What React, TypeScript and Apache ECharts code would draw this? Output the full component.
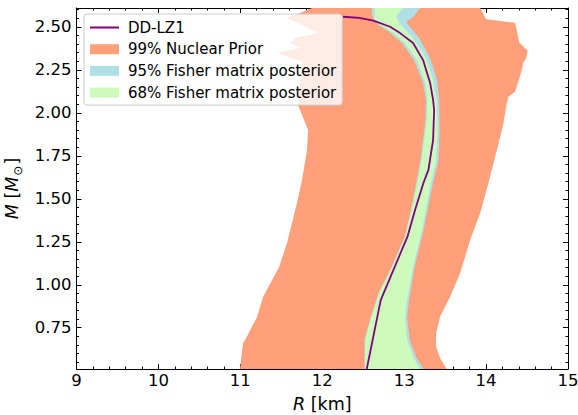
import React, { useEffect, useRef } from "react";
import * as echarts from "echarts";

// 99% nuclear prior region (outline: left edge top->bottom, right edge bottom->top)
const priorR = [11.875, 11.729, 11.57, 11.729, 11.949, 11.668, 11.607, 11.729, 11.448, 11.766, 11.729, 11.705, 11.827, 11.814, 11.753, 11.692, 11.631, 11.57, 11.473, 11.277, 11.204, 11.057, 11.033, 10.996,
  13.52, 13.439, 13.39, 13.39, 13.439, 13.561, 13.683, 13.805, 13.927, 14.028, 14.11, 14.208, 14.244, 14.272, 14.354, 14.394, 14.436, 14.452, 14.489, 14.509, 14.407, 14.354, 14.0, 13.927];
const priorM = [2.61, 2.581, 2.552, 2.517, 2.465, 2.435, 2.406, 2.377, 2.348, 2.296, 2.191, 2.046, 1.9, 1.784, 1.609, 1.476, 1.359, 1.243, 1.103, 0.929, 0.812, 0.679, 0.661, 0.51,
  0.51, 0.572, 0.64, 0.718, 0.815, 0.931, 1.067, 1.261, 1.416, 1.59, 1.745, 1.929, 2.036, 2.094, 2.123, 2.181, 2.249, 2.29, 2.317, 2.362, 2.408, 2.524, 2.544, 2.61];

// 95% Fisher matrix posterior band outline
const fisher95R = [12.516, 12.516, 12.578, 12.687, 12.846, 13.005, 13.096, 13.2, 13.261, 13.267, 13.231, 13.121, 12.974, 12.803, 12.669, 12.62, 12.602, 12.608,
  13.194, 13.109, 13.023, 13.182, 13.316, 13.402, 13.426, 13.432, 13.42, 13.341, 13.237, 13.127, 13.06, 13.035, 13.066, 13.145, 13.237];
const fisher95M = [0.51, 0.679, 0.789, 0.952, 1.103, 1.278, 1.464, 1.726, 1.958, 2.075, 2.174, 2.307, 2.406, 2.476, 2.517, 2.552, 2.581, 2.61,
  2.61, 2.558, 2.529, 2.435, 2.319, 2.191, 2.075, 1.9, 1.726, 1.569, 1.319, 1.103, 0.911, 0.812, 0.679, 0.58, 0.51];

// 68% Fisher matrix posterior band outline
const fisher68R = [12.523, 12.523, 12.584, 12.694, 12.852, 13.011, 13.109, 13.212, 13.274, 13.286, 13.255, 13.158, 13.011, 12.852, 12.706, 12.633, 12.645,
  12.987, 12.901, 12.95, 13.109, 13.267, 13.353, 13.396, 13.408, 13.39, 13.316, 13.219, 13.109, 13.035, 13.011, 13.035, 13.109, 13.194];
const fisher68M = [0.51, 0.679, 0.789, 0.952, 1.103, 1.278, 1.464, 1.726, 1.958, 2.075, 2.174, 2.307, 2.406, 2.47, 2.511, 2.546, 2.61,
  2.61, 2.563, 2.517, 2.435, 2.319, 2.191, 2.075, 1.9, 1.726, 1.569, 1.319, 1.103, 0.911, 0.812, 0.679, 0.58, 0.51];

// DD-LZ1 mass-radius curve
const lineR = [12.254, 12.45, 12.624, 12.828, 12.95, 13.109, 13.231, 13.317, 13.353, 13.366, 13.353, 13.296, 13.235, 13.133, 13.04, 12.714, 12.543];
const lineM = [2.559, 2.552, 2.536, 2.501, 2.464, 2.406, 2.307, 2.174, 2.075, 2.017, 1.842, 1.668, 1.592, 1.435, 1.28, 0.911, 0.51];

const yMajorTicks = [0.75, 1.0, 1.25, 1.5, 1.75, 2.0, 2.25, 2.5];
const yMinorTicks = [0.55, 0.6, 0.65, 0.7, 0.8, 0.85, 0.9, 0.95, 1.05, 1.1, 1.15, 1.2, 1.3, 1.35, 1.4, 1.45,
  1.55, 1.6, 1.65, 1.7, 1.8, 1.85, 1.9, 1.95, 2.05, 2.1, 2.15, 2.2, 2.3, 2.35, 2.4, 2.45, 2.55, 2.6];

const seriesNames = ["DD-LZ1", "99% Nuclear Prior", "95% Fisher matrix posterior", "68% Fisher matrix posterior"];
const COLORS = { line: "#800080", prior: "#FFA07A", f95: "#B0E0E6", f68: "#CCFBBC" };
const FONT = "DejaVu Sans";

function polygonSeries(name: string, R: number[], M: number[], color: string, z: number) {
  const pts = R.map((r, i) => [r, M[i]]);
  return {
    type: "custom",
    name,
    z,
    data: pts,
    itemStyle: { color },
    renderItem: (params: any, api: any) => {
      if (params.dataIndex !== 0) return null;
      return {
        type: "polygon",
        shape: { points: pts.map((p) => api.coord(p)) },
        style: { fill: color, stroke: null },
      };
    },
  };
}

export default function App() {
  const ref = useRef<HTMLDivElement>(null);
  useEffect(() => {
    if (!ref.current) return;
    const chart = echarts.init(ref.current, null, { renderer: "svg" });
    const axisLine = { show: true, lineStyle: { color: "#000", width: 1 } };
    const yBase = { type: "value", min: 0.51, max: 2.61, splitLine: { show: false } };
    const xBase = { type: "value", min: 9, max: 15, interval: 1, splitLine: { show: false } };
    const option: any = {
      animation: false,
      backgroundColor: "#fff",
      grid: { left: 76.5, right: 10, top: 8, bottom: 46, outerBoundsMode: "none" },
      xAxis: [
        {
          ...xBase,
          position: "bottom",
          axisLine,
          axisTick: { show: true, inside: true, length: 5, lineStyle: { color: "#000", width: 1 } },
          minorTick: { show: true, splitNumber: 5, length: 2.5, lineStyle: { color: "#000", width: 1 } },
          axisLabel: { color: "#000", fontSize: 16.5, fontFamily: FONT, margin: 3 },
          name: "{it|R}{n| [km]}",
          nameLocation: "middle",
          nameGap: 26,
          nameTextStyle: {
            fontSize: 17.5,
            fontFamily: FONT,
            color: "#000",
            rich: {
              it: { fontSize: 17.5, fontFamily: FONT, fontStyle: "italic", color: "#000" },
              n: { fontSize: 17.5, fontFamily: FONT, color: "#000" },
            },
          },
        },
        {
          ...xBase,
          position: "top",
          axisLine,
          axisTick: { show: true, inside: true, length: 5, lineStyle: { color: "#000", width: 1 } },
          minorTick: { show: true, splitNumber: 5, length: 2.5, lineStyle: { color: "#000", width: 1 } },
          axisLabel: { show: false },
        },
      ],
      yAxis: [
        {
          ...yBase,
          position: "left",
          axisLine,
          axisTick: { show: true, inside: true, length: 5, customValues: yMajorTicks, lineStyle: { color: "#000", width: 1 } },
          axisLabel: {
            customValues: yMajorTicks,
            formatter: (v: number) => v.toFixed(2),
            color: "#000",
            fontSize: 16.5,
            fontFamily: FONT,
            margin: 5,
          },
          name: "{it|M}{n| [}{it|M}{sub|⊙}{n|]}",
          nameLocation: "middle",
          nameGap: 48,
          nameRotate: 90,
          nameTextStyle: {
            fontSize: 17.5,
            fontFamily: FONT,
            color: "#000",
            rich: {
              it: { fontSize: 17.5, fontFamily: FONT, fontStyle: "italic", color: "#000", verticalAlign: "bottom", padding: [0, 0, 3, 0] },
              n: { fontSize: 17.5, fontFamily: FONT, color: "#000", verticalAlign: "bottom", padding: [0, 0, 3, 0] },
              sub: { fontSize: 12, fontFamily: FONT, color: "#000", verticalAlign: "bottom", padding: [0, 1, 0, 1] },
            },
          },
        },
        {
          ...yBase,
          position: "left",
          axisLine: { show: false },
          axisTick: { show: true, inside: true, length: 2.5, customValues: yMinorTicks, lineStyle: { color: "#000", width: 1 } },
          axisLabel: { show: false },
        },
        {
          ...yBase,
          position: "right",
          axisLine,
          axisTick: { show: true, inside: true, length: 5, customValues: yMajorTicks, lineStyle: { color: "#000", width: 1 } },
          axisLabel: { show: false },
        },
        {
          ...yBase,
          position: "right",
          axisLine: { show: false },
          axisTick: { show: true, inside: true, length: 2.5, customValues: yMinorTicks, lineStyle: { color: "#000", width: 1 } },
          axisLabel: { show: false },
        },
      ],
      legend: {
        orient: "vertical",
        left: 84,
        top: 14,
        padding: [6, 6, 5, 6],
        itemGap: 6.7,
        itemWidth: 29,
        itemHeight: 10,
        backgroundColor: "rgba(255,255,255,0.8)",
        borderColor: "#cccccc",
        borderWidth: 1,
        borderRadius: 3,
        textStyle: { fontSize: 15, fontFamily: FONT, color: "#000", padding: [0, 0, 0, 4] },
        data: [
          { name: seriesNames[0], icon: "path://M0,0 L29,0 L29,2 L0,2 Z", itemStyle: { color: COLORS.line } },
          { name: seriesNames[1], icon: "rect", itemStyle: { color: COLORS.prior } },
          { name: seriesNames[2], icon: "rect", itemStyle: { color: COLORS.f95 } },
          { name: seriesNames[3], icon: "rect", itemStyle: { color: COLORS.f68 } },
        ],
      },
      series: [
        polygonSeries(seriesNames[1], priorR, priorM, COLORS.prior, 1),
        polygonSeries(seriesNames[2], fisher95R, fisher95M, COLORS.f95, 2),
        polygonSeries(seriesNames[3], fisher68R, fisher68M, COLORS.f68, 3),
        {
          type: "line",
          name: seriesNames[0],
          z: 5,
          data: lineR.map((r, i) => [r, lineM[i]]),
          symbol: "none",
          showSymbol: false,
          lineStyle: { color: COLORS.line, width: 1.8 },
          itemStyle: { color: COLORS.line },
        },
      ],
    };
    chart.setOption(option);
    return () => chart.dispose();
  }, []);
  return (
    <div
      ref={ref}
      style={{ position: "fixed", left: 0, top: 0, width: 578, height: 415, background: "#fff" }}
    />
  );
}
